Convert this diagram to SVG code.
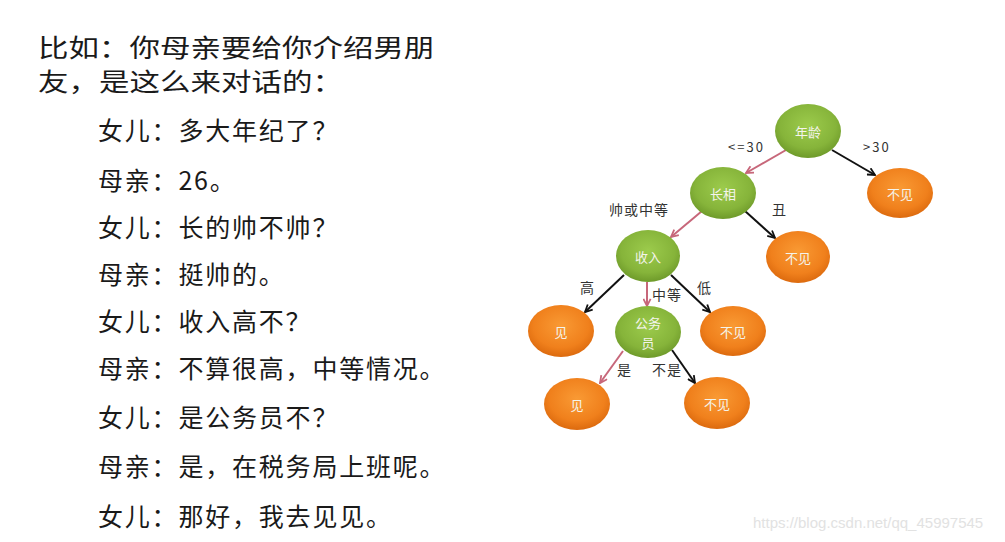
<svg xmlns="http://www.w3.org/2000/svg" width="1005" height="542" viewBox="0 0 1005 542">
<style>
.t{font-family:"Noto Sans CJK SC","Liberation Sans",sans-serif;fill:#1a1a1a}
.d{font-size:25px;letter-spacing:1.8px}
.n{font-family:"Noto Sans CJK SC","Liberation Sans",sans-serif;font-size:13px;fill:#f4f4ec;text-anchor:middle;dominant-baseline:central}
.l{font-family:"Noto Sans CJK SC","Liberation Sans",sans-serif;font-size:14px;letter-spacing:1px;fill:#333}
.s{font-size:13px;letter-spacing:2px}
.g{fill:url(#gg)}
.o{fill:url(#og)}
.r{stroke:#c7677a;stroke-width:2;fill:none;marker-end:url(#ar)}
.b{stroke:#111;stroke-width:2;fill:none;marker-end:url(#ab)}
</style>
<defs>
<radialGradient id="gg" cx="50%" cy="40%" r="60%">
<stop offset="0" stop-color="#9ccb4c"/>
<stop offset="0.7" stop-color="#86b43a"/>
<stop offset="1" stop-color="#6e9a2a"/>
</radialGradient>
<radialGradient id="og" cx="50%" cy="40%" r="60%">
<stop offset="0" stop-color="#f99a34"/>
<stop offset="0.7" stop-color="#f0801c"/>
<stop offset="1" stop-color="#dc6a0e"/>
</radialGradient>
<marker id="ar" viewBox="0 0 10 10" refX="9" refY="5" markerWidth="9" markerHeight="9" markerUnits="userSpaceOnUse" orient="auto">
<path d="M1,1 L9,5 L1,9" fill="none" stroke="#c7677a" stroke-width="2"/>
</marker>
<marker id="ab" viewBox="0 0 10 10" refX="9" refY="5" markerWidth="9" markerHeight="9" markerUnits="userSpaceOnUse" orient="auto">
<path d="M1,1 L9,5 L1,9" fill="none" stroke="#111" stroke-width="2"/>
</marker>
</defs>
<rect width="1005" height="542" fill="#fff"/>
<g id="text">
<text class="t" font-size="25" transform="translate(38,57) scale(1.22,1)">比如：你母亲要给你介绍男朋</text>
<text class="t" font-size="25" transform="translate(38,91) scale(1.22,1)">友，是这么来对话的：</text>
<text class="t d" x="98" y="140">女儿：多大年纪了？</text>
<text class="t d" x="98" y="190">母亲：26。</text>
<text class="t d" x="98" y="237">女儿：长的帅不帅？</text>
<text class="t d" x="98" y="284">母亲：挺帅的。</text>
<text class="t d" x="98" y="331">女儿：收入高不？</text>
<text class="t d" x="98" y="378">母亲：不算很高，中等情况。</text>
<text class="t d" x="98" y="427">女儿：是公务员不？</text>
<text class="t d" x="98" y="476">母亲：是，在税务局上班呢。</text>
<text class="t d" x="98" y="526">女儿：那好，我去见见。</text>
</g>
<g id="connectors">
<line class="r" x1="786" y1="150" x2="746" y2="173"/>
<line class="b" x1="832" y1="150" x2="875" y2="175"/>
<line class="r" x1="702" y1="211" x2="671" y2="237"/>
<line class="b" x1="745" y1="211" x2="775" y2="238"/>
<line class="b" x1="624" y1="275" x2="585" y2="312"/>
<line class="r" x1="647" y1="282" x2="647" y2="306"/>
<line class="b" x1="671" y1="275" x2="710" y2="312"/>
<line class="r" x1="623" y1="351" x2="600" y2="383"/>
<line class="b" x1="672" y1="350" x2="695" y2="383"/>
<text class="l s" x="728" y="152">&lt;=30</text>
<text class="l s" x="863" y="152">&gt;30</text>
<text class="l" x="609" y="215">帅或中等</text>
<text class="l" x="772" y="215">丑</text>
<text class="l" x="580" y="293">高</text>
<text class="l" x="652" y="300">中等</text>
<text class="l" x="697" y="293">低</text>
<text class="l" x="617" y="375">是</text>
<text class="l" x="652" y="375">不是</text>
</g>
<g id="n-age"><ellipse class="g" cx="808" cy="131" rx="33" ry="27"/><text class="n" x="808" y="131">年龄</text></g>
<g id="n-no1"><ellipse class="o" cx="900" cy="193" rx="33" ry="25"/><text class="n" x="900" y="193">不见</text></g>
<g id="n-look"><ellipse class="g" cx="723" cy="193" rx="33" ry="26"/><text class="n" x="723" y="193">长相</text></g>
<g id="n-no2"><ellipse class="o" cx="798" cy="257" rx="32" ry="26"/><text class="n" x="798" y="257">不见</text></g>
<g id="n-income"><ellipse class="g" cx="648" cy="256" rx="32" ry="26"/><text class="n" x="648" y="256">收入</text></g>
<g id="n-yes1"><ellipse class="o" cx="561" cy="331" rx="33" ry="26"/><text class="n" x="561" y="331">见</text></g>
<g id="n-civil"><ellipse class="g" cx="648" cy="332" rx="33" ry="26"/><text class="n" x="648" y="322" font-size="12">公务</text><text class="n" x="648" y="342" font-size="12">员</text></g>
<g id="n-no3"><ellipse class="o" cx="733" cy="331" rx="33" ry="25"/><text class="n" x="733" y="331">不见</text></g>
<g id="n-yes2"><ellipse class="o" cx="577" cy="404" rx="33" ry="26"/><text class="n" x="577" y="404">见</text></g>
<g id="n-no4"><ellipse class="o" cx="717" cy="403" rx="33" ry="26"/><text class="n" x="717" y="403">不见</text></g>
<text x="753" y="528" font-family="Liberation Sans,sans-serif" font-size="15" fill="#e2e2e2">https://blog.csdn.net/qq_45997545</text>
</svg>
